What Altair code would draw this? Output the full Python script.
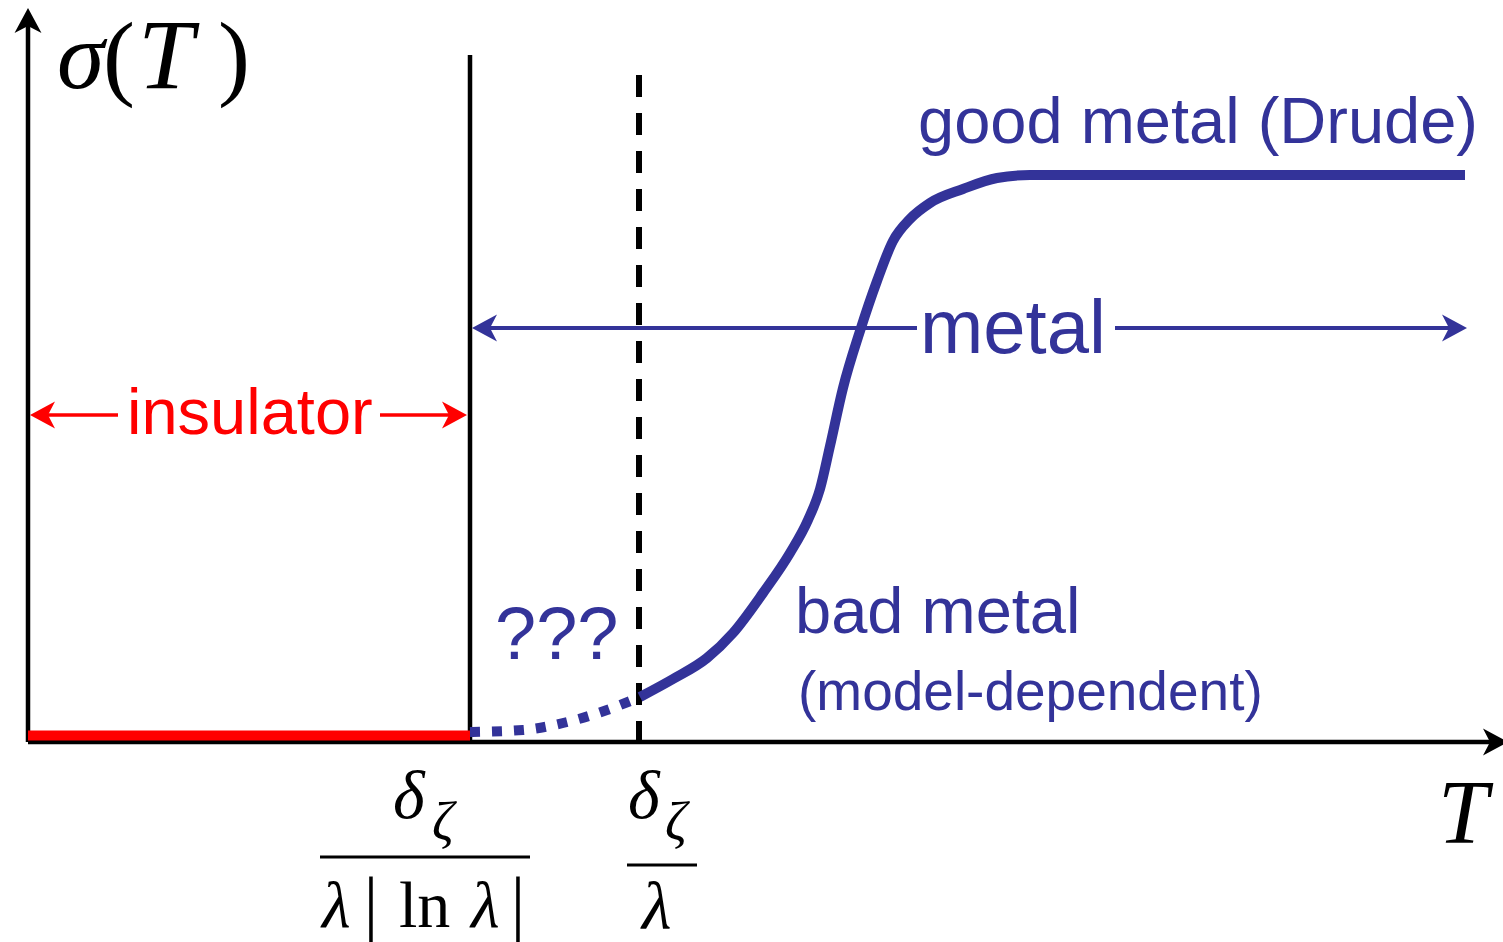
import altair as alt
import pandas as pd

BLUE = "#333399"
RED = "#ff0000"
BLACK = "#000000"
SANS = "Liberation Sans"
SERIF = "Liberation Serif"

# Crossover temperatures on the T axis
T_INS = 4.42   # δζ / (λ|ln λ|)
T_BAD = 6.11   # δζ / λ
T_END = 14.37

# Conductivity of the metal above δζ/λ: bad metal rising into the Drude plateau
metal_T = [6.12, 6.45, 6.79, 7.05, 7.35, 7.62, 7.80, 7.92, 8.02, 8.15, 8.32,
           8.49, 8.65, 8.82, 9.02, 9.35, 9.69, 10.02, 14.37]
metal_sigma = [0.45, 0.63, 0.84, 1.09, 1.49, 1.89, 2.22, 2.53, 2.96, 3.54, 4.11,
               4.61, 5.01, 5.23, 5.39, 5.53, 5.64, 5.67, 5.67]

# Unknown regime between the two crossovers
unknown_T = [4.42, 4.95, 5.35, 5.79, 6.12]
unknown_sigma = [0.10, 0.12, 0.19, 0.32, 0.45]

# Insulating plateau
insulator_T = [0.0, 4.42]
insulator_sigma = [0.065, 0.065]

xs = alt.Scale(domain=[-0.28, 14.75], nice=False, zero=False)
ys = alt.Scale(domain=[-2.0, 7.42], nice=False, zero=False)

# arrowhead pointing along +x with its tip at the anchor point
ARROW = "M0,0L-1,-0.54L-0.72,0L-1,0.54Z"


def X(field="x"):
    return alt.X(f"{field}:Q", scale=xs, axis=None)


def Y(field="y"):
    return alt.Y(f"{field}:Q", scale=ys, axis=None)


def curve(T, s, color, width, dash=None, interpolate="linear"):
    df = pd.DataFrame({"x": T, "y": s, "i": list(range(len(T)))})
    kw = dict(color=color, strokeWidth=width, strokeCap="butt",
              strokeJoin="round", interpolate=interpolate)
    if dash:
        kw["strokeDash"] = dash
    return alt.Chart(df).mark_line(**kw).encode(x=X(), y=Y(), order="i:Q")


def segment(x1, y1, x2, y2, color, width, dash=None):
    df = pd.DataFrame({"x": [x1], "y": [y1], "x2": [x2], "y2": [y2]})
    kw = dict(color=color, strokeWidth=width, strokeCap="butt")
    if dash:
        kw["strokeDash"] = dash
    return alt.Chart(df).mark_rule(**kw).encode(
        x=X(), y=Y(), x2="x2:Q", y2="y2:Q")


def head(x, y, angle, color):
    df = pd.DataFrame({"x": [x], "y": [y]})
    return alt.Chart(df).mark_point(
        shape=ARROW, size=2500, filled=True, color=color, opacity=1,
        strokeWidth=0, angle=angle).encode(x=X(), y=Y())


def label(text, x, y, size, color=BLACK, font=SANS, style="normal", align="left"):
    df = pd.DataFrame({"x": [x], "y": [y]})
    return alt.Chart(df).mark_text(
        text=text, font=font, fontSize=size, fontStyle=style, color=color,
        align=align, baseline="alphabetic").encode(x=X(), y=Y())


layers = [
    # axes
    segment(0, 0, 0, 7.22, BLACK, 4.5),
    head(0, 7.34, 270, BLACK),
    segment(0, 0, 14.65, 0, BLACK, 4.5),
    head(14.80, 0, 0, BLACK),
    # crossover markers
    segment(T_INS, 0, T_INS, 6.87, BLACK, 4.5),
    segment(T_BAD, 6.67, T_BAD, 0, BLACK, 6, dash=[22, 16]),
    # conductivity
    curve(insulator_T, insulator_sigma, RED, 10),
    curve(unknown_T, unknown_sigma, BLUE, 10, dash=[10, 12], interpolate="monotone"),
    curve(metal_T, metal_sigma, BLUE, 10, interpolate="monotone"),
    # metal range arrow
    segment(T_INS + 0.15, 4.14, 8.89, 4.14, BLUE, 4),
    segment(10.87, 4.14, T_END - 0.1, 4.14, BLUE, 4),
    head(T_INS + 0.02, 4.14, 180, BLUE),
    head(T_END + 0.02, 4.14, 0, BLUE),
    label("metal", 8.92, 3.89, 76, BLUE),
    # insulator range arrow
    segment(0.15, 3.27, 0.90, 3.27, RED, 3.5),
    segment(3.52, 3.27, T_INS - 0.15, 3.27, RED, 3.5),
    head(0.02, 3.27, 180, RED),
    head(T_INS - 0.03, 3.27, 0, RED),
    label("insulator", 0.99, 3.08, 65, RED),
    # regime labels
    label("good metal (Drude)", 8.90, 5.99, 65, BLUE),
    label("bad metal", 7.67, 1.09, 65, BLUE),
    label("(model-dependent)", 7.70, 0.32, 55, BLUE),
    label("???", 4.67, 0.83, 74, BLUE),
    # axis titles
    label("σ", 0.29, 6.54, 96, font=SERIF, style="italic"),
    label("(", 0.75, 6.54, 96, font=SERIF),
    label("T", 1.10, 6.54, 100, font=SERIF, style="italic"),
    label(")", 1.90, 6.54, 96, font=SERIF),
    label("T", 14.10, -1.01, 90, font=SERIF, style="italic"),
    # δζ / (λ|ln λ|)
    label("δ", 3.65, -0.76, 68, font=SERIF, style="italic"),
    label("ζ", 4.04, -0.98, 54, font=SERIF, style="italic"),
    segment(2.92, -1.15, 5.02, -1.15, BLACK, 3),
    label("λ", 2.94, -1.85, 66, font=SERIF, style="italic"),
    label("|", 3.43, -1.85, 72, font=SERIF, align="center"),
    label("ln", 3.71, -1.85, 66, font=SERIF),
    label("λ", 4.43, -1.85, 66, font=SERIF, style="italic"),
    label("|", 4.90, -1.85, 72, font=SERIF, align="center"),
    # δζ / λ
    label("δ", 6.00, -0.76, 68, font=SERIF, style="italic"),
    label("ζ", 6.37, -0.98, 54, font=SERIF, style="italic"),
    segment(5.99, -1.23, 6.69, -1.23, BLACK, 3),
    label("λ", 6.14, -1.87, 68, font=SERIF, style="italic"),
]

chart = alt.layer(*layers).properties(
    width=1503, height=942, padding=0,
    autosize=alt.AutoSizeParams(type="none"),
    background="white",
).configure_view(stroke=None)

chart.save("out.html", embed_options={"renderer": "svg", "actions": False})
